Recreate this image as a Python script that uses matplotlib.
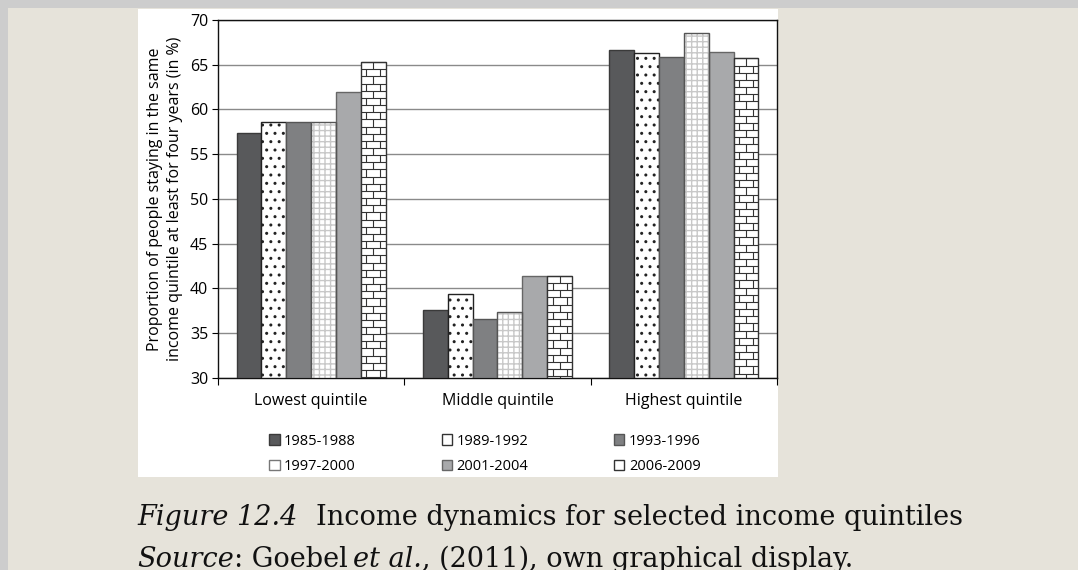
import numpy as np
import matplotlib
matplotlib.use("Agg")
import matplotlib.pyplot as plt
from matplotlib.patches import Rectangle, Patch
from matplotlib.collections import LineCollection

# ===============================
# Data
# ===============================
quintiles = ["Lowest quintile", "Middle quintile", "Highest quintile"]
periods = ["1985-1988", "1989-1992", "1993-1996", "1997-2000", "2001-2004", "2006-2009"]
v_1985 = [57.4, 37.6, 66.6]
v_1989 = [58.6, 39.4, 66.3]
v_1993 = [58.6, 36.6, 65.9]
v_1997 = [58.6, 37.4, 68.6]
v_2001 = [62.0, 41.4, 66.4]
v_2006 = [65.3, 41.4, 65.7]
series = [v_1985, v_1989, v_1993, v_1997, v_2001, v_2006]
y_ticks = [30, 35, 40, 45, 50, 55, 60, 65, 70]

ylabel = "Proportion of people staying in the same\nincome quintile at least for four years (in %)"

BG = "#e6e3da"
plt.rcParams["font.family"] = ["Open Sans", "DejaVu Sans"]

# ===============================
# Figure + page decoration
# ===============================
fig = plt.figure(figsize=(10.78, 5.70), dpi=100, facecolor=BG)
W, H = 1078, 570

def px(x0, y0, x1, y1, **kw):
    # rectangle in pixel coords (top-left origin), behind the axes
    fig.add_artist(Rectangle((x0 / W, 1 - y1 / H), (x1 - x0) / W, (y1 - y0) / H,
                             transform=fig.transFigure, zorder=-5, **kw))

px(0, 0, W, 8, facecolor="#cdcdcd", edgecolor="none")
px(0, 0, 8, H, facecolor="#cdcdcd", edgecolor="none")
px(138, 9, 778, 477, facecolor="white", edgecolor="none")

ax = fig.add_axes([218 / W, 1 - 378 / H, 559 / W, 358 / H])
ax.set_facecolor("white")

# ===============================
# Bars
# ===============================
x = np.arange(len(quintiles))
w = 0.8 / len(periods)
styles = [
    dict(color="#58595b", edgecolor="#3a3a3a"),
    dict(color="white", edgecolor="#222222", hatch=".."),
    dict(color="#7f8082", edgecolor="#555555"),
    dict(color="white", edgecolor="#c8c8c8", hatch="+++", linewidth=0),
    dict(color="#a8a9ab", edgecolor="#666666"),
    dict(color="white", edgecolor="#333333"),
]
containers = []
for i, (vals, st) in enumerate(zip(series, styles)):
    st = dict(st)
    lw = st.pop("linewidth", 1.0)
    bc = ax.bar(x + (i - 2.5) * w, np.array(vals) - 30, w, bottom=30,
                linewidth=lw, zorder=3, **st)
    containers.append(bc)

# dark outline on the grid-hatched bars
for b in containers[3]:
    ax.add_patch(Rectangle((b.get_x(), b.get_y()), b.get_width(), b.get_height(),
                           fill=False, edgecolor="#555555", linewidth=1.0, zorder=4))

# brick texture for the last series
row_h = 0.8
for b in containers[5]:
    x0, y0, bw, bh = b.get_x(), b.get_y(), b.get_width(), b.get_height()
    segs = []
    ys = np.arange(y0 + bh, y0, -row_h)
    for k, yy in enumerate(ys):
        segs.append([(x0, yy), (x0 + bw, yy)])
        y_lo = max(yy - row_h, y0)
        xs = [0.5] if k % 2 == 0 else [0.22, 0.78]
        for f in xs:
            segs.append([(x0 + f * bw, yy), (x0 + f * bw, y_lo)])
    lc = LineCollection(segs, colors="#333333", linewidths=0.8, zorder=4)
    lc.set_clip_path(b)
    ax.add_collection(lc)

# ===============================
# Axes styling
# ===============================
ax.set_ylim(30, 70)
ax.set_xlim(-0.5, 2.5)
ax.set_yticks(y_ticks)
ax.tick_params(axis="y", labelsize=11.5, length=4, width=0.8, pad=3)
ax.yaxis.grid(True, color="#8a8a8a", linewidth=1.0, zorder=0)
ax.set_axisbelow(True)
ax.set_xticks(x)
ax.set_xticklabels(quintiles, fontsize=11.5)
ax.tick_params(axis="x", which="major", length=0, pad=11)
ax.set_xticks([-0.5, 0.5, 1.5, 2.5], minor=True)
ax.tick_params(axis="x", which="minor", length=5, width=0.8)
for s in ax.spines.values():
    s.set_color("#111111")
    s.set_linewidth(1.0)
ax.set_ylabel(ylabel, fontsize=11.5, labelpad=5, linespacing=1.3)

# legend, filled row-wise
handles = [
    Patch(facecolor="#58595b", edgecolor="#3a3a3a"),
    Patch(facecolor="white", edgecolor="#333333"),
    Patch(facecolor="#7f8082", edgecolor="#555555"),
    Patch(facecolor="white", edgecolor="#777777"),
    Patch(facecolor="#a8a9ab", edgecolor="#666666"),
    Patch(facecolor="white", edgecolor="#333333", hatch="|"),
]
order = [0, 3, 1, 4, 2, 5]
leg = fig.legend([handles[i] for i in order], [periods[i] for i in order],
                 ncol=3, loc="center", bbox_to_anchor=(485 / W, 1 - 454 / H),
                 frameon=False, fontsize=10.5, handlelength=0.7, handleheight=0.7,
                 handletextpad=0.3, columnspacing=5.9, labelspacing=0.75,
                 borderpad=0)

# ===============================
# Caption
# ===============================
cap_kw = dict(fontfamily="DejaVu Serif", fontsize=19.5, color="#111111", va="baseline")
t1 = fig.text(137 / W, 1 - 525 / H, "Figure 12.4", style="italic", **cap_kw)
t1b = fig.text(316 / W, 1 - 525 / H, "Income dynamics for selected income quintiles", **cap_kw)
t2 = fig.text(137 / W, 1 - 567 / H, "Source", style="italic", **cap_kw)
ann = dict(xy=(1, 0), textcoords="offset points", xytext=(0, 0),
           annotation_clip=False, fontfamily="DejaVu Serif", fontsize=19.5,
           color="#111111", va="bottom")
t3 = ax.annotate(": Goebel", xycoords=t2, **ann)
t4 = ax.annotate("et al.", xycoords=t3, style="italic",
                 **{**ann, "xytext": (4, 0)})
ax.annotate(", (2011), own graphical display.", xycoords=t4, **ann)

fig.savefig("out.png", dpi=100, facecolor=BG)
